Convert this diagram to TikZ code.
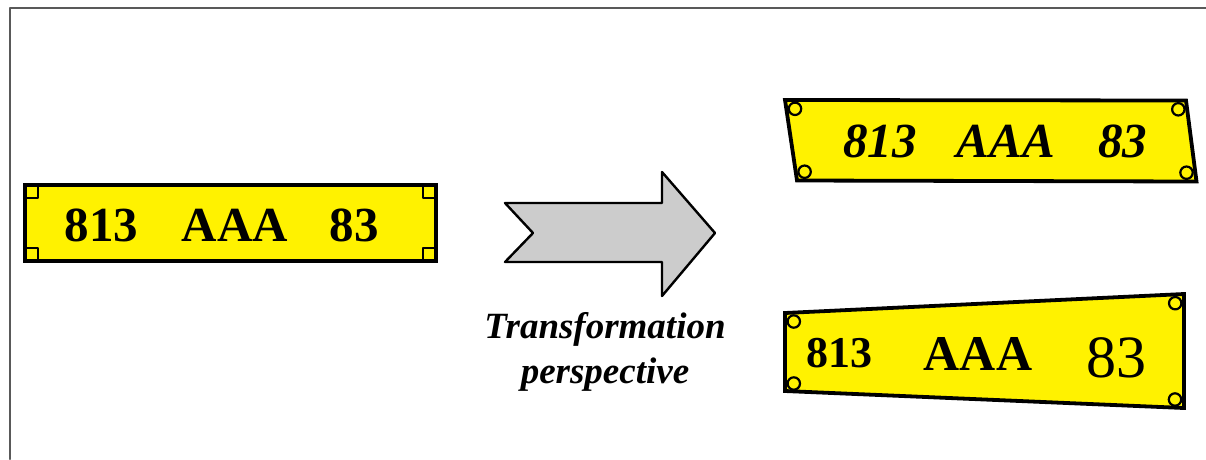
\documentclass[tikz,border=0pt]{standalone}
\usepackage{fontspec}
\setmainfont{Liberation Serif}
\begin{document}
\begin{tikzpicture}[x=1pt, y=-1pt, line join=round, line cap=round,
  plate/.style={draw, line width=3.8pt, fill=yellow, line join=miter},
  rivet/.style={draw, line width=2.2pt, fill=yellow},
  word/.style={anchor=base, inner sep=0pt, font=\fontsize{49}{49}\selectfont\bfseries}]
\useasboundingbox (0,0) rectangle (1206,459);
%Khung
\draw[black!65, line width=2pt] (9.5,459) |- (1206,7.5);
%Bien so ban dau
\draw[plate] (24.7,185) rectangle (436,261);
\foreach \x/\y/\dx/\dy in {24.7/185/1/1, 436/185/-1/1, 436/261/-1/-1, 24.7/261/1/-1}
\draw[line width=2.4pt, line cap=butt] (\x+13*\dx,\y) -- (\x+13*\dx,\y+13*\dy) -- (\x,\y+13*\dy);
\foreach \t/\x [count=\i] in {813/101.5, AAA/235, 83/354}
\node[word] (l\i) at (\x,241.5) {\t};
%Mui ten
\draw[line width=2.4pt, fill=black!20] (505,203) -- (533,233) -- (505,262) -- (662,262)
-- (662,296) -- (715,233) -- (662,172) -- (662,203) -- cycle;
\node[anchor=base, font=\fontsize{37}{37}\selectfont\bfseries\itshape] (t1) at (605,338) {Transformation};
\node[anchor=base, font=\fontsize{37}{37}\selectfont\bfseries\itshape] (t2) at (605,383) {perspective};
%Bien so nghieng
\fill[yellow] (785,100) -- (1186,100.5) -- (1196.5,181.5) -- (797,180.5) -- cycle;
\foreach \x/\y in {795/108.8, 1178.3/109.3, 1186.5/172.7, 804.6/171.7}
\draw[rivet] (\x,\y) circle (6.2);
\draw[plate, fill=none] (785,100) -- (1186,100.5) -- (1196.5,181.5) -- (797,180.5) -- cycle;
\foreach \t/\x [count=\i] in {813/880, AAA/1006, 83/1122.5}
\node[word, font=\fontsize{49}{49}\selectfont\bfseries\itshape] (r\i) at (\x,157) {\t};
%Bien so phoi canh
\fill[yellow] (785,313) -- (1184,294) -- (1184,408) -- (785,391) -- cycle;
\foreach \x/\y in {793.8/321.5, 1175.2/303.2, 1175/399.5, 793.8/383.5}
\draw[rivet] (\x,\y) circle (6.2);
\draw[plate, fill=none] (785,313) -- (1184,294) -- (1184,408) -- (785,391) -- cycle;
\node[word, font=\fontsize{44}{44}\selectfont\bfseries] (p1) at (839,367.5) {813};
\node[word, font=\fontsize{50}{50}\selectfont\bfseries] (p2) at (978,370.5) {AAA};
\node[word, font=\fontsize{60}{62}\selectfont] (p3) at (1116.5,377) {83};
\end{tikzpicture}
\end{document}
